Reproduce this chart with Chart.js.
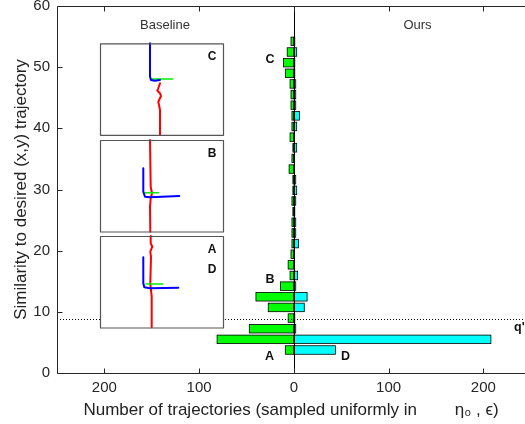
<!DOCTYPE html>
<html><head><meta charset="utf-8">
<script src="https://cdn.jsdelivr.net/npm/chart.js@4.4.1/dist/chart.umd.min.js"></script>
<style>html,body{margin:0;padding:0;background:#fff}#wrap{width:525px;height:424px;overflow:hidden}</style>
</head><body>
<div id="wrap"><canvas id="c" width="525" height="424"></canvas></div>
<script>
// bin centres (similarity values) of the histogram
const binCenters = [3.76, 5.5, 7.24, 8.98, 10.72, 12.46, 14.2, 15.94, 17.68, 19.42,
  21.16, 22.9, 24.64, 26.38, 28.12, 29.86, 31.6, 33.34, 35.08, 36.82,
  38.56, 40.3, 42.04, 43.78, 45.52, 47.26, 49.0, 50.74, 52.48, 54.22];
// counts per bin
const baselineCounts = [9, 81, 47, 6, 27, 40, 14, 4, 6, 3,
  2, 2, 2, 1, 2, 1, 1, 5, 2, 1,
  4, 2, 2, 3, 3, 4, 9, 11, 7, 3];
const oursCounts = [44, 208, 2, 1, 11, 14, 2, 4, 0, 0,
  5, 2, 2, 1, 2, 3, 2, 0, 0, 3,
  0, 3, 6, 2, 2, 2, 1, 1, 3, 1];
const xTicks = [-200, -100, 0, 100, 200];
const yTicks = [0, 10, 20, 30, 40, 50, 60];
const thresholdQ = 8.9;

const FONT = '"Liberation Sans", Arial, Helvetica, sans-serif';
const AX = '#262626';

const decor = {
  id: 'decor',
  afterDatasetsDraw(chart) {
    const {ctx, chartArea: a, scales: {x, y}} = chart;
    ctx.save();
    // bar outlines centred on the bar edges
    ctx.strokeStyle = '#000'; ctx.lineWidth = 0.8;
    chart.data.datasets.forEach((ds, di) => {
      chart.getDatasetMeta(di).data.forEach(el => {
        const l = Math.min(el.x, el.base), r = Math.max(el.x, el.base);
        ctx.strokeRect(l, el.y - el.height / 2, r - l, el.height);
      });
    });
    // zero line
    const x0 = Math.round(x.getPixelForValue(0)) + 0.5;
    ctx.strokeStyle = '#000'; ctx.lineWidth = 1;
    ctx.beginPath(); ctx.moveTo(x0, a.top); ctx.lineTo(x0, a.bottom); ctx.stroke();
    // dotted threshold
    const yq = Math.round(y.getPixelForValue(thresholdQ)) + 0.5;
    ctx.setLineDash([1, 2]);
    ctx.beginPath(); ctx.moveTo(a.left, yq); ctx.lineTo(a.right, yq); ctx.stroke();
    ctx.setLineDash([]);
    // axes box
    ctx.strokeStyle = AX; ctx.lineWidth = 1;
    const L = a.left + 0.5, B = a.bottom + 0.5, T = a.top + 0.5;
    ctx.beginPath();
    ctx.moveTo(L, T); ctx.lineTo(a.right, T);
    ctx.moveTo(L, T); ctx.lineTo(L, B); ctx.lineTo(a.right, B);
    ctx.stroke();
    // inward ticks
    ctx.beginPath();
    yTicks.forEach(v => { const p = Math.round(y.getPixelForValue(v)) + 0.5; ctx.moveTo(L, p); ctx.lineTo(L + 5, p); });
    xTicks.forEach(v => { const p = Math.round(x.getPixelForValue(v)) + 0.5; ctx.moveTo(p, B); ctx.lineTo(p, B - 5); ctx.moveTo(p, T); ctx.lineTo(p, T + 5); });
    ctx.stroke();

    // insets
    const boxes = [
      {top: 43.3, label: ['C'],
        blue: [[50,0],[50,33.4],[51,36.7],[55,37.4],[60,36.7]],
        green: [[51.7,35.7],[72.7,35.7]],
        red: [[60,40],[58.3,45],[57.3,47.4],[60,50],[61,52.7],[58.3,58.4],[59,61.7],[60,66.7],[60,91.7]]},
      {top: 140, label: ['B'],
        red: [[50,0],[50.7,46.7],[52,53.3],[50.7,58.3],[50,66.7],[50.3,91.7]],
        blue: [[43.3,28.3],[43.3,51.7],[45,56.7],[50,57.3],[79.3,56]],
        green: [[45,52.7],[58.3,52.7]]},
      {top: 236, label: ['A','D'],
        red: [[50.7,0],[50.7,7.3],[52.3,10.7],[50.3,15.7],[51,20.7],[50.3,47.3],[51.7,60.7],[51.7,91.3]],
        blue: [[43.3,21.3],[43.3,47.3],[44.3,51.3],[50,52.3],[78.3,51.7]],
        green: [[46,48],[62.7,48]]}
    ];
    const bl = 100, bw = 123, bh = 91.5;
    const path = (pts, ox, oy) => {
      ctx.beginPath();
      pts.forEach((p, i) => { if (i === 0) ctx.moveTo(ox + p[0], oy + p[1]); else ctx.lineTo(ox + p[0], oy + p[1]); });
      ctx.stroke();
    };
    boxes.forEach(b => {
      ctx.fillStyle = '#fff';
      ctx.fillRect(bl, b.top, bw, bh);
      ctx.lineJoin = 'round'; ctx.lineCap = 'round';
      ctx.lineWidth = 2; ctx.strokeStyle = '#ff0000'; path(b.red, bl, b.top);
      ctx.lineWidth = 1.6; ctx.strokeStyle = '#00ee00'; path(b.green, bl, b.top);
      ctx.lineWidth = 2; ctx.strokeStyle = '#0000ff'; path(b.blue, bl, b.top);
      ctx.lineCap = 'butt';
      ctx.lineWidth = 1.2; ctx.strokeStyle = '#555';
      ctx.strokeRect(bl + 0.5, b.top + 0.5, bw, bh);
      ctx.fillStyle = '#111'; ctx.font = 'bold 12px ' + FONT;
      ctx.textAlign = 'center'; ctx.textBaseline = 'middle';
      b.label.forEach((t, i) => ctx.fillText(t, bl + 112, b.top + 13.5 + i * 20));
    });

    // text labels
    ctx.fillStyle = '#333'; ctx.font = '13px ' + FONT;
    ctx.textAlign = 'center'; ctx.textBaseline = 'middle';
    ctx.fillText('Baseline', 165, 25);
    ctx.fillText('Ours', 417.5, 25);
    ctx.fillStyle = '#111'; ctx.font = 'bold 12.5px ' + FONT;
    ctx.fillText('C', 270, 59.5);
    ctx.fillText('B', 270, 280);
    ctx.fillText('A', 269.5, 357);
    ctx.fillText('D', 345.5, 357);
    ctx.textAlign = 'left';
    ctx.fillText("q'", 514, 327.5);
    ctx.restore();
  }
};

new Chart(document.getElementById('c'), {
  type: 'bar',
  data: {
    datasets: [
      {label: 'Baseline', data: binCenters.map((c, i) => ({x: -baselineCounts[i], y: c})),
        backgroundColor: '#00ff00', borderWidth: 0, grouped: false},
      {label: 'Ours', data: binCenters.map((c, i) => ({x: oursCounts[i], y: c})),
        backgroundColor: '#00ffff', borderWidth: 0, grouped: false}
    ]
  },
  options: {
    indexAxis: 'y',
    responsive: false,
    animation: false,
    devicePixelRatio: 1,
    categoryPercentage: 1,
    barPercentage: 0.8,
    layout: {padding: {top: 6, left: 0, right: 0, bottom: 0}},
    plugins: {legend: {display: false}, tooltip: {enabled: false}},
    scales: {
      x: {
        type: 'linear', min: -250, max: 244, offset: false,
        afterBuildTicks: s => { s.ticks = xTicks.map(v => ({value: v})); },
        afterFit: s => { s.height = 51; s.paddingLeft = 0; s.paddingRight = 0; },
        grid: {display: false, drawTicks: false},
        border: {display: false},
        ticks: {color: AX, font: {family: FONT, size: 15}, padding: 6, callback: v => String(Math.abs(v)), maxRotation: 0},
        title: {display: true, text: 'Number of trajectories (sampled uniformly in        η\u2080 , \u03f5)', color: '#222',
          font: {family: FONT, size: 17}, padding: {top: 0, bottom: 3}}
      },
      y: {
        type: 'linear', min: 0, max: 60, offset: false,
        afterBuildTicks: s => { s.ticks = yTicks.map(v => ({value: v})); },
        afterFit: s => { s.width = 57; s.paddingTop = 0; s.paddingBottom = 0; },
        grid: {display: false, drawTicks: false},
        border: {display: false},
        ticks: {color: AX, font: {family: FONT, size: 15}, padding: 7},
        title: {display: true, text: 'Similarity to desired (x,y) trajectory', color: '#222',
          font: {family: FONT, size: 17}, padding: {top: 11, bottom: 0}}
      }
    }
  },
  plugins: [decor]
});
</script>
</body></html>
